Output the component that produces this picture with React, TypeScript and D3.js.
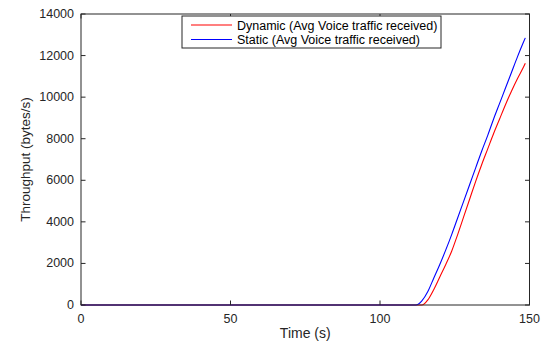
import React, { useEffect, useRef } from "react";
import * as d3 from "d3";

// sample times (s)
const timeValues = [
  0, 110, 112, 114, 116, 118, 120, 122, 124, 126, 128, 130, 132, 134, 136,
  138, 140, 142, 144, 146, 148, 148.6,
];
// Dynamic (Avg Voice traffic received)
const dynamicValues = [
  0, 0, 0, 0, 250, 750, 1350, 1950, 2600, 3400, 4250, 5100, 5950, 6750, 7500,
  8250, 8950, 9650, 10300, 10900, 11450, 11630,
];
// Static (Avg Voice traffic received)
const staticValues = [
  0, 0, 0, 200, 650, 1300, 1950, 2650, 3400, 4200, 5000, 5800, 6600, 7400,
  8150, 8950, 9700, 10450, 11200, 11950, 12650, 12850,
];
const xTicks = [0, 50, 100, 150];
const yTicks = [0, 2000, 4000, 6000, 8000, 10000, 12000, 14000];
const seriesNames = [
  "Dynamic (Avg Voice traffic received)",
  "Static (Avg Voice traffic received)",
];
const seriesColors = ["#ff0000", "#0000ff"];

const W = 545;
const H = 344;
const margin = { top: 14, right: 15, bottom: 39, left: 81 };
const font = "'Liberation Sans', Arial, sans-serif";
const axisColor = "#262626";

const App: React.FC = () => {
  const svgRef = useRef<SVGSVGElement | null>(null);

  useEffect(() => {
    if (!svgRef.current) return;
    const svg = d3.select(svgRef.current);
    svg.selectAll("*").remove();

    const x = d3
      .scaleLinear()
      .domain([0, 150])
      .range([margin.left, W - margin.right - 0.5]);
    const y = d3
      .scaleLinear()
      .domain([0, 14000])
      .range([H - margin.bottom, margin.top]);

    const x0 = x(0);
    const x1 = x(150);
    const y0 = y(0);
    const y1 = y(14000);
    const tickLen = 4.5;

    // lines
    const line = d3
      .line<number>()
      .x((_, i) => x(timeValues[i]))
      .y((d) => y(d))
      .curve(d3.curveMonotoneX);

    [dynamicValues, staticValues].forEach((vals, k) => {
      svg
        .append("path")
        .attr("d", line(vals) ?? "")
        .attr("fill", "none")
        .attr("stroke", seriesColors[k])
        .attr("stroke-width", 1.1);
    });

    // box
    const g = svg.append("g").attr("stroke", axisColor).attr("stroke-width", 1);
    g.append("rect")
      .attr("x", x0)
      .attr("y", y1)
      .attr("width", x1 - x0)
      .attr("height", y0 - y1)
      .attr("fill", "none");

    xTicks.forEach((t) => {
      g.append("line")
        .attr("x1", x(t))
        .attr("x2", x(t))
        .attr("y1", y0)
        .attr("y2", y0 - tickLen);
      g.append("line")
        .attr("x1", x(t))
        .attr("x2", x(t))
        .attr("y1", y1)
        .attr("y2", y1 + tickLen);
    });
    yTicks.forEach((t) => {
      g.append("line")
        .attr("x1", x0)
        .attr("x2", x0 + tickLen)
        .attr("y1", y(t))
        .attr("y2", y(t));
      g.append("line")
        .attr("x1", x1)
        .attr("x2", x1 - tickLen)
        .attr("y1", y(t))
        .attr("y2", y(t));
    });

    // tick labels
    svg
      .append("g")
      .selectAll("text")
      .data(xTicks)
      .join("text")
      .attr("x", (d) => x(d))
      .attr("y", y0 + 18)
      .attr("text-anchor", "middle")
      .attr("font-family", font)
      .attr("font-size", 12.5)
      .attr("fill", axisColor)
      .text((d) => d);

    svg
      .append("g")
      .selectAll("text")
      .data(yTicks)
      .join("text")
      .attr("x", x0 - 7)
      .attr("y", (d) => y(d) + 4)
      .attr("text-anchor", "end")
      .attr("font-family", font)
      .attr("font-size", 12.5)
      .attr("fill", axisColor)
      .text((d) => d);

    // axis labels
    svg
      .append("text")
      .attr("x", (x0 + x1) / 2)
      .attr("y", H - 6)
      .attr("text-anchor", "middle")
      .attr("font-family", font)
      .attr("font-size", 14)
      .attr("fill", axisColor)
      .text("Time (s)");

    svg
      .append("text")
      .attr("transform", `translate(30,${(y0 + y1) / 2}) rotate(-90)`)
      .attr("text-anchor", "middle")
      .attr("font-family", font)
      .attr("font-size", 13.5)
      .attr("fill", axisColor)
      .text("Throughput (bytes/s)");

    // legend
    const lg = svg.append("g").attr("transform", "translate(182,16)");
    lg.append("rect")
      .attr("width", 259)
      .attr("height", 32)
      .attr("fill", "#fff")
      .attr("stroke", axisColor)
      .attr("stroke-width", 1);
    seriesNames.forEach((name, i) => {
      const ly = 9 + i * 14.5;
      lg.append("line")
        .attr("x1", 9)
        .attr("x2", 50)
        .attr("y1", ly)
        .attr("y2", ly)
        .attr("stroke", seriesColors[i])
        .attr("stroke-width", 1.1);
      lg.append("text")
        .attr("x", 55)
        .attr("y", ly + 4.5)
        .attr("font-family", font)
        .attr("font-size", 12.5)
        .attr("fill", "#000")
        .text(name);
    });
  }, []);

  return (
    <svg
      ref={svgRef}
      width={W}
      height={H}
      style={{ position: "absolute", left: 0, top: 0, background: "#fff" }}
    />
  );
};

export default App;
